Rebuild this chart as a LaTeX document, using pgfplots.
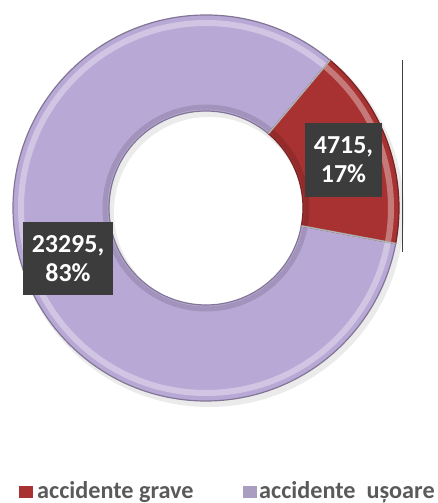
\documentclass[border=0pt]{standalone}
\usepackage{pgfplots}
\pgfplotsset{compat=1.18}
\usepackage{fontspec}
\setmainfont{Carlito}
\definecolor{grave}{HTML}{A83232}
\definecolor{usoare}{HTML}{B8A8D5}
\definecolor{lbl}{HTML}{3C3C3C}
\definecolor{legtxt}{HTML}{5A5A5A}
% data
\def\valA{4715}   % accidente grave
\def\valB{23295}  % accidente usoare
\edef\sA{-10.6}
\edef\eA{\fpeval{round(\sA+360*\valA/(\valA+\valB),3)}}
\edef\eB{\fpeval{\sA+360}}
\begin{document}
\begin{tikzpicture}
\begin{axis}[
  at={(0,0)}, anchor=south west,
  width=438bp, height=503bp, scale only axis,
  xmin=0, xmax=438, ymin=-503, ymax=0,
  hide axis, clip=false,
]
\def\cx{206}\def\cy{-208}
% shadow
\fill[black!8] (axis cs:\cx+3,\cy-4) circle[radius=195bp];
\fill[white] (axis cs:\cx+3,\cy-4) circle[radius=95bp];
% slice B
\fill[usoare, draw=usoare!70!black, line width=1.2bp]
  (axis cs:{\cx+193*cos(\eA)},{\cy+193*sin(\eA)})
  arc[start angle=\eA, end angle=\eB, radius=193bp]
  -- (axis cs:{\cx+97*cos(\eB)},{\cy+97*sin(\eB)})
  arc[start angle=\eB, end angle=\eA, radius=97bp] -- cycle;
% slice A
\fill[grave, draw=grave!70!black, line width=1.2bp]
  (axis cs:{\cx+193*cos(\sA)},{\cy+193*sin(\sA)})
  arc[start angle=\sA, end angle=\eA, radius=193bp]
  -- (axis cs:{\cx+97*cos(\eA)},{\cy+97*sin(\eA)})
  arc[start angle=\eA, end angle=\sA, radius=97bp] -- cycle;
% bevel highlights
\draw[white, opacity=0.35, line width=6bp] (axis cs:\cx,\cy) ++(0:185bp) arc[start angle=0, end angle=360, radius=185bp];
\draw[black, opacity=0.12, line width=5bp] (axis cs:\cx,\cy) ++(0:101bp) arc[start angle=0, end angle=360, radius=101bp];
% separators
\draw[gray!60, line width=1.5bp] (axis cs:{\cx+97*cos(\sA)},{\cy+97*sin(\sA)}) -- (axis cs:{\cx+193*cos(\sA)},{\cy+193*sin(\sA)});
\draw[gray!60, line width=1.5bp] (axis cs:{\cx+97*cos(\eA)},{\cy+97*sin(\eA)}) -- (axis cs:{\cx+193*cos(\eA)},{\cy+193*sin(\eA)});
% vertical line
\draw[black!75, line width=1bp] (axis cs:402,-60) -- (axis cs:402,-252);
% labels
\node[fill=lbl, text=white, font=\bfseries\fontsize{26}{29}\selectfont, align=center, inner sep=3bp, minimum width=77bp, minimum height=74bp] at (axis cs:343.5,-160) {4715,\\17\%};
\node[fill=lbl, text=white, font=\bfseries\fontsize{26}{29}\selectfont, align=center, inner sep=3bp, minimum width=90bp, minimum height=73bp] at (axis cs:68,-258.5) {23295,\\83\%};
% legend
\fill[grave] (axis cs:19,-486) rectangle (axis cs:33,-498);
\node[anchor=base west, text=legtxt, font=\bfseries\fontsize{24.3}{27}\selectfont, inner sep=0pt] at (axis cs:37,-498) {accidente grave};
\fill[usoare!75!gray] (axis cs:243,-486) rectangle (axis cs:257,-498);
\node[anchor=base west, text=legtxt, font=\bfseries\fontsize{24.3}{27}\selectfont, inner sep=0pt] at (axis cs:259,-498) {accidente\ \ ușoare};
\end{axis}
\pgfresetboundingbox
\path (0,0) rectangle (438bp,503bp);
\end{tikzpicture}
\end{document}
